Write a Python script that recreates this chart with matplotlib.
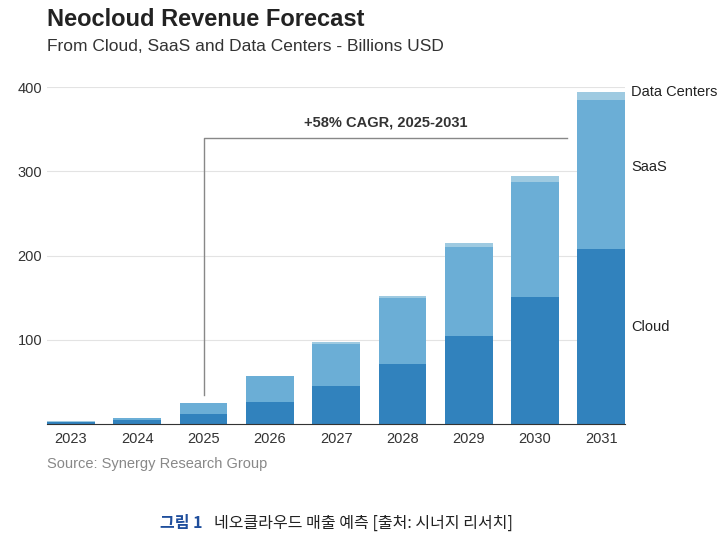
import matplotlib.pyplot as plt
import numpy as np

years = ['2023', '2024', '2025', '2026', '2027', '2028', '2029', '2030', '2031']
cloud = [2, 4.7, 12, 26, 45.5, 71.5, 105, 150.5, 208]
saas = [0.8, 2.4, 13, 31, 50, 78.5, 105, 136.5, 177]
dc = [0.2, 0.3, 0.5, 0.6, 1.5, 2.6, 5, 7, 9.5]

c_cloud = '#3182bd'
c_saas = '#6baed6'
c_dc = '#9ecae1'

plt.rcParams['font.family'] = ['Liberation Sans', 'DejaVu Sans']

fig = plt.figure(figsize=(7.26, 5.45), dpi=100)
ax = fig.add_axes([0.065, 0.222, 0.796, 0.618])

x = np.arange(len(years))
cloud = np.array(cloud)
saas = np.array(saas)
dc = np.array(dc)
w = 0.72
ax.bar(x, cloud, w, color=c_cloud, zorder=2)
ax.bar(x, saas, w, bottom=cloud, color=c_saas, zorder=2)
ax.bar(x, dc, w, bottom=cloud + saas, color=c_dc, zorder=2)

ax.set_xlim(-0.36, 8.36)
ax.set_ylim(0, 400)
ax.set_yticks([100, 200, 300, 400])
ax.set_xticks(x)
ax.set_xticklabels(years)
ax.grid(axis='y', color='#e3e3e3', lw=0.8, zorder=0)
ax.tick_params(length=0, labelsize=10.5, colors='#333333')
ax.tick_params(axis='x', pad=6)
for s in ['top', 'right', 'left']:
    ax.spines[s].set_visible(False)
ax.spines['bottom'].set_color('#333333')

# CAGR bracket
ax.plot([2, 2, 7.49], [35, 340, 340], color='#888888', lw=1, zorder=3)
ax.text(4.75, 350, '+58% CAGR, 2025-2031', ha='center', va='bottom',
        fontsize=10.5, fontweight='bold', color='#333333')

# series labels on right
ax.text(8.45, 394, 'Data Centers', va='center', fontsize=10.5, color='#222222', clip_on=False)
ax.text(8.45, 305, 'SaaS', va='center', fontsize=10.5, color='#222222', clip_on=False)
ax.text(8.45, 115, 'Cloud', va='center', fontsize=10.5, color='#222222', clip_on=False)

fig.text(0.065, 0.965, 'Neocloud Revenue Forecast', fontsize=17, fontweight='bold',
         color='#222222', va='center')
fig.text(0.065, 0.915, 'From Cloud, SaaS and Data Centers - Billions USD', fontsize=12.5,
         color='#333333', va='center')
fig.text(0.065, 0.148, 'Source: Synergy Research Group', fontsize=10.5, color='#888888', va='center')

fig.text(0.22, 0.04, '그림 1', fontsize=11.5, fontweight='bold', color='#1f4e9c',
         va='center', family=['Noto Sans CJK KR', 'DejaVu Sans'])
fig.text(0.295, 0.04, '네오클라우드 매출 예측 [출처: 시너지 리서치]', fontsize=11.5,
         color='#222222', va='center', family=['Noto Sans CJK KR', 'DejaVu Sans'])

fig.savefig('out.png', dpi=100)
